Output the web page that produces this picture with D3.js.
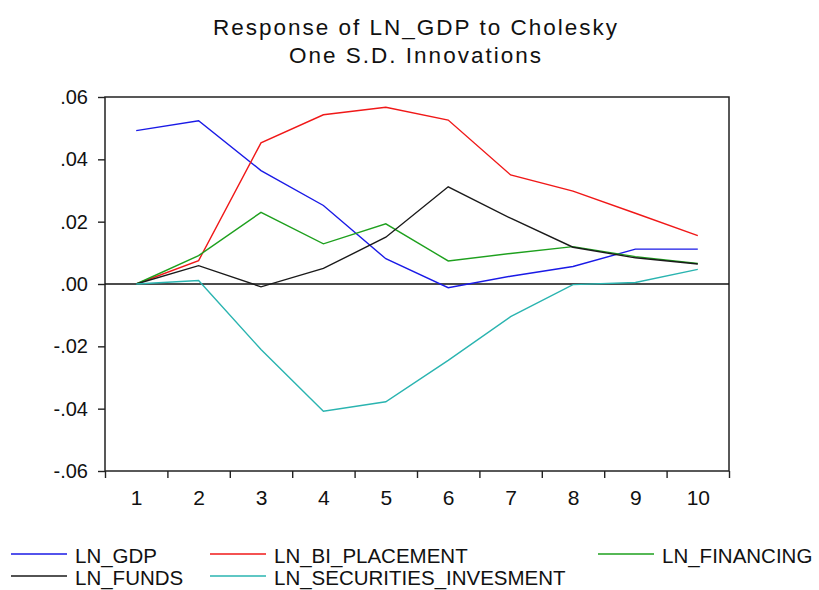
<!DOCTYPE html>
<html>
<head>
<meta charset="utf-8">
<script src="https://cdn.jsdelivr.net/npm/d3@7"></script>
<style>
  html, body { margin: 0; padding: 0; background: #fff; }
  svg { display: block; font-family: 'Liberation Sans', Arial, sans-serif; }
</style>
</head>
<body>
<svg id="chart" width="819" height="590"></svg>
<script>
'use strict';

// impulse response values
const periods = [1, 2, 3, 4, 5, 6, 7, 8, 9, 10];
const lnGdp = [0.0492, 0.0524, 0.0364, 0.0252, 0.0081, -0.0012, 0.0025, 0.0056, 0.0112, 0.0112];
const lnBiPlacement = [0.0, 0.0075, 0.0453, 0.0543, 0.0567, 0.0526, 0.035, 0.0298, 0.0227, 0.0155];
const lnFinancing = [0.0, 0.0091, 0.023, 0.0129, 0.0193, 0.0074, 0.0098, 0.012, 0.0088, 0.0066];
const lnFunds = [0.0, 0.0059, -0.0009, 0.005, 0.015, 0.0312, 0.0211, 0.0118, 0.0084, 0.0064];
const lnSecurities = [0.0, 0.0011, -0.021, -0.0408, -0.0378, -0.0245, -0.0105, -0.0002, 0.0005, 0.0047];

const seriesNames = ['LN_GDP', 'LN_BI_PLACEMENT', 'LN_FINANCING', 'LN_FUNDS', 'LN_SECURITIES_INVESMENT'];
const seriesValues = [lnGdp, lnBiPlacement, lnFinancing, lnFunds, lnSecurities];
const seriesColors = ['#1a1ae6', '#f01818', '#1ea01e', '#1a1a1a', '#2ab4b0'];

const yTicks = [0.06, 0.04, 0.02, 0.0, -0.02, -0.04, -0.06];
const titleLines = ['Response of LN_GDP to Cholesky', 'One S.D. Innovations'];

const plot = { left: 105, right: 729, top: 97, bottom: 471 };

const svg = d3.select('#chart');

const x = d3.scaleLinear()
  .domain([0.5, 10.5])
  .range([plot.left, plot.right]);

const y = d3.scaleLinear()
  .domain([-0.06, 0.06])
  .range([plot.bottom, plot.top]);

// eviews style: ".04", "-.02"
const fmtY = (v) => v.toFixed(2).replace('0.', '.');

// title
svg.append('g')
  .selectAll('text')
  .data(titleLines)
  .join('text')
  .attr('x', 416)
  .attr('y', (d, i) => 35 + i * 28)
  .attr('text-anchor', 'middle')
  .attr('font-size', '22.5px')
  .attr('letter-spacing', '2px')
  .attr('fill', '#111')
  .text((d) => d);

// y axis
const yAxis = svg.append('g')
  .attr('transform', `translate(${plot.left},0)`)
  .call(d3.axisLeft(y).tickValues(yTicks).tickSize(7).tickPadding(10).tickFormat(fmtY));
yAxis.select('.domain').remove();
yAxis.attr('font-family', null);
yAxis.selectAll('line').attr('stroke', '#222').attr('stroke-width', 1.4);
yAxis.selectAll('text').attr('font-size', '20px').attr('fill', '#111');

// x axis: tick marks on period boundaries, labels in the middle
const xTicks = svg.append('g')
  .attr('transform', `translate(0,${plot.bottom})`)
  .call(d3.axisBottom(x).tickValues(d3.range(0.5, 11, 1)).tickSize(7).tickFormat(''));
xTicks.select('.domain').remove();
xTicks.selectAll('line').attr('stroke', '#222').attr('stroke-width', 1.4);

const xLabels = svg.append('g')
  .attr('transform', `translate(0,${plot.bottom})`)
  .call(d3.axisBottom(x).tickValues(periods).tickSize(0).tickPadding(19).tickFormat(d3.format('d')));
xLabels.select('.domain').remove();
xLabels.attr('font-family', null);
xLabels.selectAll('text').attr('font-size', '21px').attr('fill', '#111');

// frame + zero line
svg.append('rect')
  .attr('x', plot.left)
  .attr('y', plot.top)
  .attr('width', plot.right - plot.left)
  .attr('height', plot.bottom - plot.top)
  .attr('fill', 'none')
  .attr('stroke', '#222')
  .attr('stroke-width', 1.5);

svg.append('line')
  .attr('x1', plot.left)
  .attr('x2', plot.right)
  .attr('y1', y(0))
  .attr('y2', y(0))
  .attr('stroke', '#111')
  .attr('stroke-width', 1.4);

// series lines
const line = d3.line()
  .x((d, i) => x(periods[i]))
  .y((d) => y(d));

svg.append('g')
  .selectAll('path')
  .data(seriesValues)
  .join('path')
  .attr('d', (d) => line(d))
  .attr('fill', 'none')
  .attr('stroke', (d, i) => seriesColors[i])
  .attr('stroke-width', 1.4);

// legend, two rows
const legendCols = [11, 210, 598];
const legendRows = [563, 585];
const legendSlot = (i) => ({
  x: legendCols[i < 3 ? i : i - 3],
  y: legendRows[i < 3 ? 0 : 1],
});

const legend = svg.append('g')
  .selectAll('g')
  .data(seriesNames)
  .join('g')
  .attr('transform', (d, i) => `translate(${legendSlot(i).x},${legendSlot(i).y})`);

legend.append('line')
  .attr('x1', 0)
  .attr('x2', 56)
  .attr('y1', -9)
  .attr('y2', -9)
  .attr('stroke', (d, i) => seriesColors[i])
  .attr('stroke-width', 1.6);

legend.append('text')
  .attr('x', 64)
  .attr('y', 0)
  .attr('font-size', '20.5px')
  .attr('fill', '#111')
  .text((d) => d);
</script>
</body>
</html>
